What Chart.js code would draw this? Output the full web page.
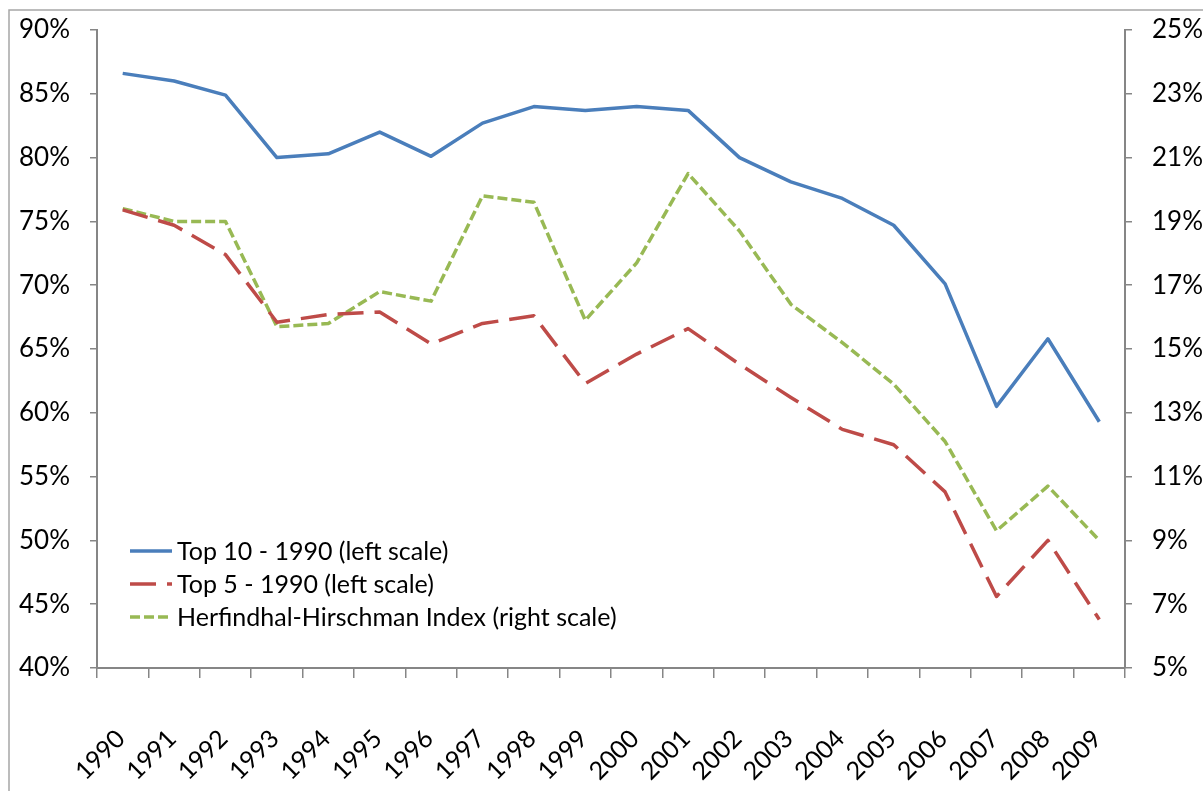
<!DOCTYPE html>
<html>
<head>
<meta charset="utf-8">
<script src="https://cdn.jsdelivr.net/npm/chart.js@4"></script>
<style>
  body { margin: 0; background: #fff; }
  canvas { display: block; }
</style>
</head>
<body>
<canvas id="myChart" width="1203" height="791"></canvas>
<script>
var years = ["1990", "1991", "1992", "1993", "1994", "1995", "1996", "1997", "1998", "1999",
             "2000", "2001", "2002", "2003", "2004", "2005", "2006", "2007", "2008", "2009"];
var top10 = [86.6, 86.0, 84.9, 80.0, 80.3, 82.0, 80.1, 82.7, 84.0, 83.7,
             84.0, 83.7, 80.0, 78.1, 76.8, 74.7, 70.1, 60.5, 65.8, 59.3];
var top5 = [75.9, 74.7, 72.4, 67.1, 67.7, 67.9, 65.4, 67.0, 67.6, 62.3,
            64.6, 66.6, 63.8, 61.2, 58.7, 57.5, 53.8, 45.6, 50.0, 43.8];
var hhi = [19.4, 19.0, 19.0, 15.7, 15.8, 16.8, 16.5, 19.8, 19.6, 15.9,
           17.7, 20.5, 18.7, 16.4, 15.2, 13.9, 12.1, 9.3, 10.7, 9.0];
var leftTicks = { min: 40, max: 90, step: 5 };
var rightTicks = { min: 5, max: 25, step: 2 };

var axisGray = '#868686';
var font = { family: 'Lato', size: 26 };

// frame round the chart + legend inside the plot area
var extras = {
    id: 'extras',
    beforeDraw: function (chart) {
        var c = chart.ctx;
        c.save();
        c.strokeStyle = '#a6a6a6';
        c.lineWidth = 1.5;
        c.beginPath();
        c.moveTo(9, 800);
        c.lineTo(9, 10);
        c.lineTo(1210, 10);
        c.stroke();
        c.restore();
    },
    afterDraw: function (chart) {
        var c = chart.ctx;
        var rows = [551, 584, 617];
        c.save();
        c.font = '25px Lato';
        c.textBaseline = 'middle';
        chart.data.datasets.forEach(function (ds, i) {
            var y = rows[i];
            c.strokeStyle = ds.borderColor;
            c.lineWidth = ds.borderWidth;
            c.setLineDash(ds.borderDash || []);
            c.beginPath();
            c.moveTo(130, y);
            c.lineTo(172, y);
            c.stroke();
            c.setLineDash([]);
            c.fillStyle = '#000';
            c.fillText(ds.label, 177, y + 1);
        });
        c.restore();
    }
};

// fixed axis sizes so the plot area lands where the original has it
function fixY(width) {
    return function (s) {
        s.width = width;
        s.paddingTop = 0;
        s.paddingBottom = 0;
    };
}

var ctx = document.getElementById('myChart').getContext('2d');
var myChart = new Chart(ctx, {
    type: 'line',
    data: {
        labels: years,
        datasets: [{
            label: "Top 10 - 1990 (left scale)",
            data: top10,
            borderColor: "#4A7EBB",
            borderWidth: 3.5,
            yAxisID: 'y'
        }, {
            label: "Top 5 - 1990 (left scale)",
            data: top5,
            borderColor: "#BE4B48",
            borderWidth: 3.5,
            borderDash: [26, 11],
            yAxisID: 'y'
        }, {
            label: "Herfindhal-Hirschman Index (right scale)",
            data: hhi,
            borderColor: "#98B954",
            borderWidth: 3.5,
            borderDash: [10, 4],
            yAxisID: 'y1'
        }]
    },
    options: {
        responsive: false,
        animation: false,
        layout: { padding: { top: 30, left: 0, right: 0, bottom: 0 } },
        elements: {
            point: { radius: 0 },
            line: { tension: 0, borderJoinStyle: 'round', fill: false }
        },
        plugins: {
            legend: { display: false },
            tooltip: { enabled: false }
        },
        scales: {
            x: {
                offset: true,
                grid: { offset: true, drawOnChartArea: false, tickLength: 10, color: axisGray, lineWidth: 1.5 },
                border: { color: axisGray, width: 2 },
                ticks: {
                    font: { family: 'Lato', size: 25 }, color: '#000', minRotation: 45, maxRotation: 45,
                    autoSkip: false, padding: 46, labelOffset: -2
                },
                afterFit: function (s) { s.height = 123; }
            },
            y: {
                position: 'left',
                min: leftTicks.min,
                max: leftTicks.max,
                grid: { drawOnChartArea: false, tickLength: 7, color: axisGray, lineWidth: 1.5 },
                border: { color: axisGray, width: 2 },
                ticks: {
                    stepSize: leftTicks.step, font: font, color: '#000', padding: 20,
                    callback: function (v) { return v + '%'; }
                },
                afterFit: fixY(97)
            },
            y1: {
                position: 'right',
                min: rightTicks.min,
                max: rightTicks.max,
                grid: { drawOnChartArea: false, tickLength: 7, color: axisGray, lineWidth: 1.5 },
                border: { color: axisGray, width: 2 },
                ticks: {
                    stepSize: rightTicks.step, font: font, color: '#000', padding: 20,
                    callback: function (v) { return v + '%'; }
                },
                afterFit: fixY(78)
            }
        }
    },
    plugins: [extras]
});
</script>
</body>
</html>
